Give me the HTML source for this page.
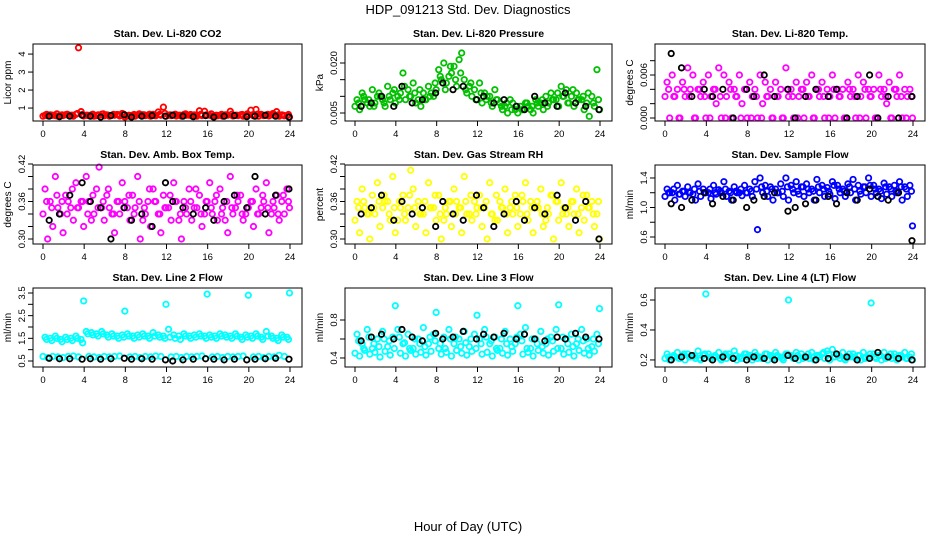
<!DOCTYPE html>
<html><head><meta charset="utf-8"><style>
html,body{margin:0;padding:0;background:#fff;}
svg{display:block;font-family:"Liberation Sans",Arial,sans-serif;}
</style></head><body>
<svg id="chart" width="936" height="540" viewBox="0 0 936 540">
<text x="468" y="14" text-anchor="middle" font-size="13">HDP_091213  Std. Dev. Diagnostics</text>
<text x="468" y="531" text-anchor="middle" font-size="13">Hour of Day (UTC)</text>
</svg>
<script>
const hrsA=[0.2,0.7,1.2,1.7,2.2,2.7,3.2,3.7,4.2,4.7,5.2,5.7,6.2,6.7,7.2,7.7,8.2,8.7,9.2,9.7,10.2,10.7,11.2,11.7,12.2,12.7,13.2,13.7,14.2,14.7,15.2,15.7,16.2,16.7,17.2,17.7,18.2,18.7,19.2,19.7,20.2,20.7,21.2,21.7,22.2,22.7,23.2,23.7];
const hrsB=[0,0.45,0.95,1.45,1.95,2.45,2.95,3.45,3.95,4.45,4.95,5.45,5.95,6.45,6.95,7.45,7.95,8.45,8.95,9.45,9.95,10.45,10.95,11.45,11.95,12.45,12.95,13.45,13.95,14.45,14.95,15.45,15.95,16.45,16.95,17.45,17.95,18.45,18.95,19.45,19.95,20.45,20.95,21.45,21.95,22.45,22.95,23.45,23.95];
const hrsC=[0.35,0.85,1.35,1.85,2.35,2.85,3.35,3.85,4.35,4.85,5.35,5.85,6.35,6.85,7.35,7.85,8.35,8.85,9.35,9.85,10.35,10.85,11.35,11.85,12.35,12.85,13.35,13.85,14.35,14.85,15.35,15.85,16.35,16.85,17.35,17.85,18.35,18.85,19.35,19.85,20.35,20.85,21.35,21.85,22.35,22.85,23.35,23.85];
const hrsK=[0.6,1.6,2.6,3.8,4.6,5.6,6.6,7.9,8.6,9.6,10.6,11.9,12.6,13.6,14.6,15.8,16.6,17.6,18.6,19.8,20.6,21.6,22.6,23.9];

const co2A=[0.6,0.62,0.58,0.6,0.63,0.6,0.65,0.8,0.6,0.62,0.58,0.66,0.62,0.6,0.64,0.7,0.55,0.6,0.62,0.63,0.6,0.65,0.78,1.05,0.6,0.62,0.6,0.64,0.6,0.62,0.85,0.82,0.6,0.58,0.6,0.62,0.82,0.6,0.62,0.6,0.88,0.92,0.65,0.6,0.62,0.8,0.62,0.58];
const co2B=[0.55,0.57,0.6,0.55,0.58,0.6,0.55,4.35,0.56,0.58,0.55,0.6,0.57,0.55,0.6,0.56,0.5,0.57,0.55,0.6,0.58,0.55,0.57,0.6,0.55,0.58,0.56,0.55,0.6,0.57,0.55,0.58,0.6,0.55,0.57,0.55,0.6,0.56,0.58,0.55,0.6,0.57,0.55,0.58,0.56,0.6,0.55,0.57,0.5];
const co2C=[0.65,0.6,0.68,0.62,0.66,0.6,0.7,0.64,0.6,0.66,0.62,0.68,0.6,0.65,0.62,0.66,0.6,0.64,0.68,0.62,0.66,0.6,0.65,0.7,0.62,0.66,0.6,0.68,0.64,0.6,0.66,0.62,0.68,0.6,0.65,0.62,0.66,0.6,0.64,0.68,0.62,0.66,0.6,0.65,0.7,0.62,0.6,0.64];
const co2K=[0.55,0.52,0.55,0.6,0.55,0.5,0.58,0.62,0.5,0.55,0.58,0.55,0.6,0.55,0.52,0.58,0.5,0.55,0.58,0.52,0.55,0.6,0.55,0.5];

const presA=[0.009,0.011,0.008,0.012,0.010,0.009,0.013,0.011,0.010,0.017,0.012,0.014,0.009,0.011,0.013,0.010,0.018,0.020,0.016,0.019,0.021,0.015,0.013,0.012,0.014,0.011,0.010,0.012,0.008,0.007,0.009,0.006,0.007,0.008,0.006,0.009,0.008,0.010,0.011,0.009,0.013,0.012,0.010,0.011,0.009,0.008,0.010,0.018];
const presB=[0.007,0.006,0.009,0.007,0.008,0.010,0.007,0.009,0.008,0.011,0.009,0.010,0.008,0.007,0.009,0.011,0.012,0.015,0.014,0.017,0.013,0.023,0.011,0.010,0.009,0.008,0.010,0.007,0.009,0.006,0.005,0.008,0.005,0.006,0.007,0.005,0.007,0.006,0.008,0.009,0.007,0.010,0.008,0.007,0.009,0.006,0.004,0.007,0.006];
const presC=[0.008,0.010,0.009,0.007,0.011,0.008,0.010,0.012,0.009,0.013,0.010,0.011,0.012,0.009,0.010,0.014,0.016,0.012,0.019,0.015,0.017,0.012,0.014,0.009,0.011,0.009,0.008,0.009,0.007,0.008,0.006,0.007,0.006,0.008,0.007,0.008,0.009,0.007,0.009,0.011,0.010,0.008,0.012,0.009,0.010,0.011,0.008,0.009];
const presK=[0.007,0.008,0.010,0.007,0.013,0.008,0.009,0.011,0.014,0.012,0.013,0.009,0.010,0.008,0.009,0.007,0.006,0.010,0.008,0.007,0.011,0.008,0.007,0.006];

const tempA=[0.005,0.006,0.004,0.005,0.007,0.006,0.004,0.005,0.006,0.004,0.007,0.006,0.005,0.004,0.006,0.004,0.005,0.004,0.006,0.005,0.004,0.005,0.004,0.007,0.004,0.005,0.004,0.005,0.006,0.004,0.005,0.004,0.006,0.004,0.004,0.005,0.004,0.006,0.005,0.004,0.004,0.006,0.004,0.005,0.004,0.006,0.004,0.004];
const tempB=[0.003,0,0.003,0,0.003,0.004,0,0.003,0,0.003,0.002,0,0.003,0,0.003,0.002,0,0.003,0,0.002,0.003,0,0.003,0,0.003,0,0.003,0,0.003,0,0.003,0,0.003,0,0.003,0,0.003,0,0.003,0,0.003,0,0.003,0.002,0,0.003,0,0.003,0];
const tempC=[0.004,0.003,0,0.004,0.003,0,0.004,0.003,0,0.004,0.003,0,0.004,0.003,0,0.004,0,0.003,0,0.003,0,0.003,0,0.004,0.003,0,0.004,0.003,0,0.004,0.003,0,0.004,0.003,0,0.004,0.003,0,0.004,0.003,0,0.004,0.003,0,0.004,0.003,0,0.003];
const tempK=[0.009,0.007,0.003,0.004,0.003,0.004,0,0.004,0.003,0.006,0.003,0.004,0,0.003,0.004,0.003,0.004,0,0.003,0.006,0,0.003,0,0.003];

const ambA=[0.38,0.36,0.40,0.34,0.37,0.35,0.39,0.36,0.40,0.33,0.38,0.35,0.37,0.34,0.36,0.39,0.35,0.37,0.40,0.33,0.36,0.38,0.34,0.37,0.35,0.39,0.33,0.36,0.38,0.35,0.37,0.34,0.39,0.36,0.38,0.33,0.40,0.35,0.37,0.34,0.36,0.38,0.35,0.39,0.34,0.37,0.36,0.38];
const ambB=[0.34,0.30,0.32,0.35,0.31,0.36,0.33,0.35,0.32,0.36,0.34,0.415,0.33,0.35,0.31,0.34,0.36,0.33,0.35,0.30,0.34,0.32,0.36,0.31,0.35,0.33,0.36,0.30,0.34,0.33,0.35,0.32,0.36,0.34,0.33,0.35,0.31,0.34,0.36,0.33,0.35,0.32,0.34,0.36,0.31,0.35,0.33,0.34,0.35];
const ambC=[0.36,0.35,0.37,0.36,0.34,0.38,0.35,0.36,0.34,0.37,0.35,0.36,0.38,0.34,0.36,0.35,0.37,0.34,0.36,0.35,0.38,0.36,0.34,0.35,0.37,0.36,0.34,0.35,0.36,0.38,0.34,0.36,0.35,0.37,0.34,0.36,0.35,0.37,0.34,0.35,0.36,0.34,0.37,0.35,0.36,0.34,0.37,0.36];
const ambK=[0.33,0.34,0.37,0.39,0.36,0.35,0.30,0.35,0.33,0.34,0.32,0.39,0.36,0.35,0.34,0.35,0.33,0.36,0.37,0.35,0.40,0.34,0.37,0.38];

const rhA=[0.36,0.38,0.34,0.37,0.39,0.35,0.36,0.40,0.33,0.37,0.35,0.38,0.36,0.34,0.39,0.35,0.37,0.33,0.36,0.38,0.35,0.40,0.34,0.36,0.37,0.35,0.39,0.33,0.36,0.38,0.35,0.37,0.34,0.39,0.36,0.35,0.38,0.33,0.37,0.36,0.39,0.34,0.36,0.38,0.35,0.37,0.36,0.34];
const rhB=[0.33,0.31,0.35,0.30,0.34,0.32,0.36,0.33,0.31,0.35,0.33,0.41,0.32,0.34,0.31,0.35,0.33,0.30,0.34,0.32,0.36,0.31,0.34,0.33,0.35,0.32,0.30,0.34,0.33,0.35,0.31,0.34,0.32,0.36,0.33,0.31,0.35,0.32,0.34,0.30,0.33,0.35,0.32,0.34,0.31,0.33,0.35,0.32,0.30];
const rhC=[0.35,0.36,0.34,0.35,0.36,0.37,0.34,0.35,0.36,0.34,0.37,0.35,0.34,0.36,0.35,0.37,0.34,0.35,0.36,0.34,0.35,0.36,0.37,0.34,0.35,0.36,0.34,0.37,0.35,0.34,0.36,0.35,0.37,0.34,0.35,0.36,0.34,0.35,0.37,0.36,0.34,0.35,0.36,0.34,0.37,0.35,0.34,0.36];
const rhK=[0.34,0.35,0.37,0.33,0.36,0.34,0.35,0.32,0.36,0.34,0.33,0.37,0.35,0.32,0.34,0.36,0.33,0.35,0.34,0.37,0.35,0.33,0.36,0.30];

const flowA=[1.25,1.2,1.3,1.22,1.28,1.18,1.32,1.25,1.2,1.3,1.24,1.35,1.22,1.28,1.2,1.3,1.25,1.35,1.4,1.3,1.28,1.25,1.32,1.4,1.3,1.35,1.28,1.32,1.25,1.38,1.3,1.27,1.35,1.3,1.25,1.32,1.38,1.3,1.28,1.4,1.3,1.25,1.33,1.28,1.3,1.35,1.28,1.3];
const flowB=[1.15,1.2,1.1,1.18,1.15,1.2,1.1,1.15,1.2,1.12,1.18,1.2,1.15,1.1,1.2,1.16,1.2,1.15,0.7,1.2,1.15,1.1,1.2,1.15,1.1,1.2,1.18,1.15,1.2,1.1,1.2,1.15,1.18,1.12,1.2,1.15,1.2,1.1,1.18,1.2,1.15,1.2,1.12,1.18,1.15,1.2,1.1,1.15,0.75];
const flowC=[1.2,1.25,1.18,1.22,1.2,1.25,1.22,1.2,1.25,1.2,1.22,1.25,1.2,1.22,1.25,1.2,1.22,1.25,1.28,1.22,1.25,1.2,1.22,1.28,1.25,1.22,1.28,1.25,1.22,1.28,1.25,1.22,1.3,1.25,1.22,1.28,1.25,1.22,1.28,1.3,1.25,1.22,1.28,1.25,1.22,1.28,1.25,1.22];
const flowK=[1.05,1.0,1.1,1.2,1.05,1.15,1.1,1.0,1.1,1.15,1.2,0.95,1.0,1.05,1.1,1.15,1.05,1.2,1.1,1.25,1.15,1.1,1.2,0.55];

const l2A=[1.55,1.5,1.6,1.45,1.55,1.5,1.6,1.45,1.8,1.75,1.7,1.8,1.65,1.7,1.6,1.65,1.7,1.6,1.65,1.7,1.6,1.75,1.65,1.6,1.9,1.65,1.6,1.7,1.6,1.65,1.7,1.6,1.65,1.6,1.7,1.65,1.6,1.7,1.55,1.65,1.6,1.7,1.55,1.8,1.6,1.5,1.65,1.55];
const l2B=[0.7,0.65,0.7,0.68,0.65,0.7,0.72,0.68,3.15,0.7,0.68,0.65,0.7,0.68,0.7,0.72,2.7,0.68,0.7,0.65,0.7,0.68,0.72,0.7,3.0,0.68,0.7,0.65,0.7,0.68,0.7,0.72,3.45,0.68,0.7,0.65,0.7,0.68,0.7,0.72,3.4,0.68,0.7,0.65,0.7,0.68,0.75,0.7,3.5];
const l2C=[1.45,1.4,1.5,1.35,1.45,1.4,1.5,1.3,1.7,1.65,1.6,1.7,1.55,1.6,1.5,1.55,1.6,1.5,1.55,1.6,1.5,1.6,1.55,1.5,1.55,1.5,1.45,1.6,1.5,1.55,1.6,1.5,1.55,1.5,1.6,1.55,1.5,1.6,1.45,1.55,1.5,1.6,1.45,1.6,1.5,1.4,1.55,1.45];
const l2K=[0.62,0.6,0.6,0.58,0.6,0.58,0.6,0.62,0.58,0.6,0.58,0.55,0.5,0.55,0.58,0.6,0.58,0.55,0.58,0.55,0.58,0.6,0.62,0.58];

const l3A=[0.65,0.55,0.7,0.5,0.6,0.68,0.52,0.62,0.7,0.55,0.65,0.5,0.6,0.72,0.55,0.65,0.5,0.62,0.7,0.55,0.6,0.68,0.52,0.65,0.6,0.7,0.55,0.62,0.5,0.68,0.6,0.55,0.65,0.72,0.5,0.6,0.68,0.55,0.62,0.7,0.5,0.6,0.65,0.55,0.7,0.6,0.52,0.65];
const l3B=[0.45,0.42,0.48,0.44,0.46,0.41,0.47,0.43,0.95,0.45,0.42,0.48,0.44,0.46,0.43,0.47,0.88,0.44,0.46,0.42,0.48,0.45,0.43,0.47,0.85,0.44,0.46,0.42,0.48,0.45,0.43,0.47,0.95,0.44,0.46,0.42,0.48,0.45,0.43,0.47,0.96,0.44,0.46,0.42,0.48,0.45,0.43,0.47,0.92];
const l3C=[0.58,0.5,0.62,0.55,0.52,0.6,0.58,0.5,0.62,0.56,0.5,0.6,0.55,0.52,0.62,0.58,0.55,0.5,0.6,0.62,0.52,0.56,0.6,0.5,0.55,0.62,0.58,0.5,0.6,0.55,0.52,0.62,0.58,0.5,0.6,0.55,0.52,0.6,0.58,0.5,0.62,0.55,0.52,0.6,0.58,0.5,0.6,0.55];
const l3K=[0.58,0.62,0.65,0.6,0.7,0.62,0.58,0.66,0.6,0.62,0.68,0.6,0.65,0.62,0.66,0.6,0.65,0.6,0.58,0.62,0.6,0.66,0.62,0.6];

const l4A=[0.24,0.22,0.25,0.23,0.24,0.22,0.26,0.23,0.24,0.22,0.25,0.23,0.24,0.26,0.22,0.24,0.23,0.25,0.22,0.24,0.23,0.25,0.22,0.24,0.23,0.25,0.24,0.22,0.25,0.23,0.24,0.26,0.27,0.23,0.25,0.22,0.24,0.23,0.25,0.22,0.24,0.23,0.25,0.22,0.24,0.23,0.25,0.22];
const l4B=[0.21,0.2,0.22,0.21,0.2,0.22,0.21,0.2,0.64,0.21,0.22,0.2,0.21,0.22,0.2,0.21,0.22,0.2,0.21,0.22,0.2,0.21,0.22,0.2,0.6,0.21,0.2,0.22,0.21,0.2,0.22,0.21,0.2,0.22,0.21,0.2,0.22,0.21,0.2,0.22,0.58,0.21,0.2,0.22,0.21,0.2,0.22,0.21,0.2];
const l4C=[0.22,0.23,0.21,0.24,0.22,0.23,0.21,0.24,0.22,0.23,0.21,0.24,0.22,0.23,0.21,0.24,0.22,0.23,0.21,0.24,0.22,0.23,0.21,0.24,0.22,0.23,0.21,0.24,0.22,0.23,0.25,0.24,0.22,0.23,0.21,0.24,0.22,0.23,0.21,0.24,0.22,0.23,0.21,0.24,0.22,0.23,0.21,0.24];
const l4K=[0.2,0.22,0.23,0.21,0.2,0.22,0.21,0.2,0.22,0.21,0.2,0.23,0.21,0.22,0.2,0.21,0.24,0.22,0.2,0.21,0.25,0.22,0.21,0.2];

const xTicks=[0,4,8,12,16,20,24];

const panels=[
 {name:'co2',title:'Stan. Dev. Li-820 CO2',ylab:'Licor ppm',col:0,row:0,lo:0.28,hi:4.56,ticks:[1,2,3,4],labels:['1','2','3','4'],color:'#ff0000',A:co2A,B:co2B,C:co2C,K:co2K},
 {name:'pressure',title:'Stan. Dev. Li-820 Pressure',ylab:'kPa',col:1,row:0,lo:0.0026,hi:0.0257,ticks:[0.005,0.010,0.015,0.020],labels:['0.005','','','0.020'],color:'#00c000',A:presA,B:presB,C:presC,K:presK},
 {name:'li820-temp',title:'Stan. Dev. Li-820 Temp.',ylab:'degrees C',col:2,row:0,lo:-0.00042,hi:0.01033,ticks:[0,0.002,0.004,0.006,0.008],labels:['0.000','','','0.006',''],color:'#ff00ff',A:tempA,B:tempB,C:tempC,K:tempK},
 {name:'amb-box-temp',title:'Stan. Dev. Amb. Box Temp.',ylab:'degrees C',col:0,row:1,lo:0.292,hi:0.4184,ticks:[0.30,0.32,0.34,0.36,0.38,0.40,0.42],labels:['0.30','','','0.36','','','0.42'],color:'#ff00ff',A:ambA,B:ambB,C:ambC,K:ambK},
 {name:'gas-stream-rh',title:'Stan. Dev. Gas Stream RH',ylab:'percent',col:1,row:1,lo:0.292,hi:0.4184,ticks:[0.30,0.32,0.34,0.36,0.38,0.40,0.42],labels:['0.30','','','0.36','','','0.42'],color:'#ffff00',A:rhA,B:rhB,C:rhC,K:rhK},
 {name:'sample-flow',title:'Stan. Dev. Sample Flow',ylab:'ml/min',col:2,row:1,lo:0.505,hi:1.576,ticks:[0.6,0.8,1.0,1.2,1.4],labels:['0.6','','1.0','','1.4'],color:'#0000ff',A:flowA,B:flowB,C:flowC,K:flowK},
 {name:'line2-flow',title:'Stan. Dev. Line 2 Flow',ylab:'ml/min',col:0,row:2,lo:0.235,hi:3.72,ticks:[0.5,1,1.5,2,2.5,3,3.5],labels:['0.5','','1.5','','2.5','','3.5'],color:'#00ffff',A:l2A,B:l2B,C:l2C,K:l2K},
 {name:'line3-flow',title:'Stan. Dev. Line 3 Flow',ylab:'ml/min',col:1,row:2,lo:0.305,hi:1.137,ticks:[0.4,0.6,0.8],labels:['0.4','','0.8'],color:'#00ffff',A:l3A,B:l3B,C:l3C,K:l3K},
 {name:'line4-flow',title:'Stan. Dev. Line 4 (LT) Flow',ylab:'ml/min',col:2,row:2,lo:0.153,hi:0.68,ticks:[0.2,0.4,0.6],labels:['0.2','0.4','0.6'],color:'#00ffff',A:l4A,B:l4B,C:l4C,K:l4K}
];
const colX=[[33,302],[345,612],[655,925]];
const rowY=[[44,121],[165,244],[288,367]];
const NS='http://www.w3.org/2000/svg';
const svg=document.getElementById('chart');
function mk(tag,attrs,parent){const e=document.createElementNS(NS,tag);for(const k in attrs)e.setAttribute(k,attrs[k]);(parent||svg).appendChild(e);return e;}
panels.forEach(p=>{
  const [x0,x1]=colX[p.col],[y0,y1]=rowY[p.row];
  const xs=h=>x0+10+(h/24)*(x1-x0-22);
  const ys=v=>y1-(v-p.lo)/(p.hi-p.lo)*(y1-y0);
  const g=mk('g',{});
  
  
  const t=mk('text',{x:(x0+x1)/2,y:y0-7,'text-anchor':'middle','font-size':'10.5','font-weight':'bold'},g);
  t.textContent=p.title;
  
  
  const yl=mk('text',{x:0,y:0,'text-anchor':'middle','font-size':'10',transform:`translate(${x0-22},${(y0+y1)/2}) rotate(-90)`},g);
  yl.textContent=p.ylab;
  
  
  xTicks.forEach(h=>{
    const ln=mk('line',{x1:xs(h),x2:xs(h),y1:y1,y2:y1+5,stroke:'#000','stroke-width':1},g);
    
    
    const tx=mk('text',{x:xs(h),y:y1+16,'text-anchor':'middle','font-size':'9.5'},g);
    tx.textContent=h;
    
    
  });
  p.ticks.forEach((v,i)=>{
    const ln=mk('line',{x1:x0-5,x2:x0,y1:ys(v),y2:ys(v),stroke:'#000','stroke-width':1},g);
    
    
    if(p.labels[i]){
      const tx=mk('text',{x:0,y:0,'text-anchor':'middle','font-size':'9.5',transform:`translate(${x0-8},${ys(v)}) rotate(-90)`},g);
      tx.textContent=p.labels[i];
      
      
    }
  });
  const pts=mk('g',{fill:'none','stroke-width':'1.8'},g);
  
  
  [[hrsA,p.A,p.color],[hrsB,p.B,p.color],[hrsC,p.C,p.color],[hrsK,p.K,'#000']].forEach(([hx,vals,c])=>{
    vals.forEach((v,i)=>{
      if(i>=hx.length)return;
      const ci=mk('circle',{cx:xs(hx[i]),cy:ys(v),r:2.7,stroke:c},pts);
      
      
    });
  });
  const box=mk('rect',{x:x0,y:y0,width:x1-x0,height:y1-y0,fill:'none',stroke:'#000','stroke-width':1},g);
  
  
});
</script>
</body></html>
